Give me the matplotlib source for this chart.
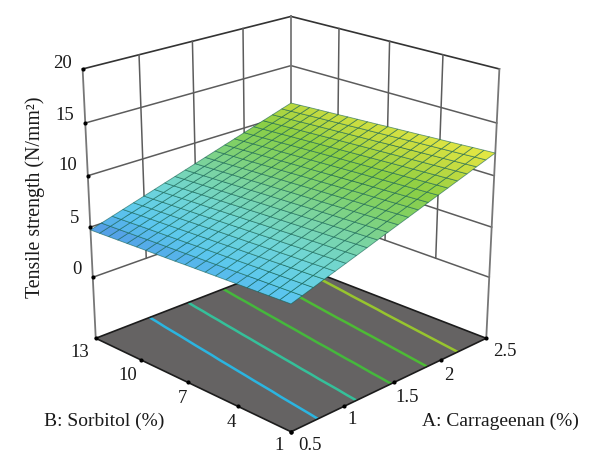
import numpy as np
import matplotlib
matplotlib.use("Agg")
import matplotlib.pyplot as plt
from matplotlib.colors import LinearSegmentedColormap

plt.rcParams['font.family'] = ['Liberation Serif', 'DejaVu Serif']

# Factor axes
carrageenan = [0.5, 0.6, 0.7, 0.8, 0.9, 1.0, 1.1, 1.2, 1.3, 1.4, 1.5, 1.6, 1.7, 1.8, 1.9, 2.0, 2.1, 2.2, 2.3, 2.4, 2.5]
sorbitol = [1.0, 1.6, 2.2, 2.8, 3.4, 4.0, 4.6, 5.2, 5.8, 6.4, 7.0, 7.6, 8.2, 8.8, 9.4, 10.0, 10.6, 11.2, 11.8, 12.4, 13.0]

# Tensile strength: one row per sorbitol level, one column per carrageenan level
strength = [
    [5.53, 5.86, 6.19, 6.53, 6.86, 7.19, 7.52, 7.85, 8.19, 8.52, 8.85, 9.18, 9.51, 9.85, 10.18, 10.51, 10.84, 11.17, 11.51, 11.84, 12.17],
    [5.49, 5.82, 6.15, 6.48, 6.82, 7.15, 7.48, 7.81, 8.14, 8.47, 8.80, 9.14, 9.47, 9.80, 10.13, 10.46, 10.79, 11.12, 11.45, 11.79, 12.12],
    [5.45, 5.78, 6.11, 6.44, 6.77, 7.10, 7.43, 7.76, 8.10, 8.43, 8.76, 9.09, 9.42, 9.75, 10.08, 10.41, 10.74, 11.07, 11.40, 11.73, 12.07],
    [5.41, 5.74, 6.07, 6.40, 6.73, 7.06, 7.39, 7.72, 8.05, 8.38, 8.71, 9.04, 9.37, 9.70, 10.03, 10.36, 10.69, 11.02, 11.35, 11.68, 12.01],
    [5.37, 5.70, 6.03, 6.36, 6.69, 7.02, 7.35, 7.68, 8.00, 8.33, 8.66, 8.99, 9.32, 9.65, 9.98, 10.31, 10.64, 10.97, 11.30, 11.63, 11.96],
    [5.33, 5.66, 5.99, 6.31, 6.64, 6.97, 7.30, 7.63, 7.96, 8.29, 8.62, 8.95, 9.28, 9.60, 9.93, 10.26, 10.59, 10.92, 11.25, 11.58, 11.91],
    [5.29, 5.62, 5.94, 6.27, 6.60, 6.93, 7.26, 7.59, 7.91, 8.24, 8.57, 8.90, 9.23, 9.56, 9.88, 10.21, 10.54, 10.87, 11.20, 11.53, 11.86],
    [5.25, 5.57, 5.90, 6.23, 6.56, 6.89, 7.21, 7.54, 7.87, 8.20, 8.52, 8.85, 9.18, 9.51, 9.84, 10.16, 10.49, 10.82, 11.15, 11.48, 11.80],
    [5.21, 5.53, 5.86, 6.19, 6.51, 6.84, 7.17, 7.50, 7.82, 8.15, 8.48, 8.81, 9.13, 9.46, 9.79, 10.11, 10.44, 10.77, 11.10, 11.42, 11.75],
    [5.17, 5.49, 5.82, 6.15, 6.47, 6.80, 7.13, 7.45, 7.78, 8.10, 8.43, 8.76, 9.08, 9.41, 9.74, 10.06, 10.39, 10.72, 11.04, 11.37, 11.70],
    [5.13, 5.45, 5.78, 6.10, 6.43, 6.76, 7.08, 7.41, 7.73, 8.06, 8.39, 8.71, 9.04, 9.36, 9.69, 10.02, 10.34, 10.67, 10.99, 11.32, 11.65],
    [5.08, 5.41, 5.74, 6.06, 6.39, 6.71, 7.04, 7.36, 7.69, 8.01, 8.34, 8.66, 8.99, 9.31, 9.64, 9.97, 10.29, 10.62, 10.94, 11.27, 11.59],
    [5.04, 5.37, 5.69, 6.02, 6.34, 6.67, 6.99, 7.32, 7.64, 7.97, 8.29, 8.62, 8.94, 9.27, 9.59, 9.92, 10.24, 10.57, 10.89, 11.22, 11.54],
    [5.00, 5.33, 5.65, 5.98, 6.30, 6.62, 6.95, 7.27, 7.60, 7.92, 8.25, 8.57, 8.89, 9.22, 9.54, 9.87, 10.19, 10.52, 10.84, 11.16, 11.49],
    [4.96, 5.29, 5.61, 5.93, 6.26, 6.58, 6.90, 7.23, 7.55, 7.88, 8.20, 8.52, 8.85, 9.17, 9.49, 9.82, 10.14, 10.46, 10.79, 11.11, 11.44],
    [4.92, 5.25, 5.57, 5.89, 6.21, 6.54, 6.86, 7.18, 7.51, 7.83, 8.15, 8.48, 8.80, 9.12, 9.44, 9.77, 10.09, 10.41, 10.74, 11.06, 11.38],
    [4.88, 5.20, 5.53, 5.85, 6.17, 6.49, 6.82, 7.14, 7.46, 7.78, 8.11, 8.43, 8.75, 9.07, 9.40, 9.72, 10.04, 10.36, 10.69, 11.01, 11.33],
    [4.84, 5.16, 5.49, 5.81, 6.13, 6.45, 6.77, 7.09, 7.42, 7.74, 8.06, 8.38, 8.70, 9.03, 9.35, 9.67, 9.99, 10.31, 10.63, 10.96, 11.28],
    [4.80, 5.12, 5.44, 5.77, 6.09, 6.41, 6.73, 7.05, 7.37, 7.69, 8.01, 8.33, 8.66, 8.98, 9.30, 9.62, 9.94, 10.26, 10.58, 10.90, 11.23],
    [4.76, 5.08, 5.40, 5.72, 6.04, 6.36, 6.68, 7.00, 7.33, 7.65, 7.97, 8.29, 8.61, 8.93, 9.25, 9.57, 9.89, 10.21, 10.53, 10.85, 11.17],
    [4.72, 5.04, 5.36, 5.68, 6.00, 6.32, 6.64, 6.96, 7.28, 7.60, 7.92, 8.24, 8.56, 8.88, 9.20, 9.52, 9.84, 10.16, 10.48, 10.80, 11.12],
]

contour_levels = [6.36, 7.59, 8.75, 10.0, 11.1]
contour_colors = ['#2bb5e0', '#35c09a', '#45b83c', '#4dbb35', '#97c52e']

a_ticks = [0.5, 1.0, 1.5, 2.0, 2.5]
b_ticks = [1, 4, 7, 10, 13]
z_ticks = [0, 5, 10, 15, 20]
a_labels = ['0.5', '1', '1.5', '2', '2.5']
b_labels = ['1', '4', '7', '10', '13']
z_labels = ['0', '5', '10', '15', '20']
floor_z = -6.25

W, H = 600, 473
fig = plt.figure(figsize=(6.0, 4.73), dpi=100)

# Square 3D axes placed in pixel terms; it may run past the top of the figure
side = 481
cx, cy = 284.5, 214.5
ax = fig.add_axes([(cx - side / 2) / W, (H - cy - side / 2) / H, side / W, side / H],
                  projection='3d', computed_zorder=False)
ax.set_proj_type('ortho')
ax.set_box_aspect((1, 1, 1.01))
ax.view_init(elev=20.9, azim=-135)
ax.set_xlim(0.5, 2.5)
ax.set_ylim(1, 13)
ax.set_zlim(floor_z, 20)
ax.set_axis_off()
ax.patch.set_alpha(0)

# Keystone projection: foreshortening set separately for height and for depth
height_keystone = -0.065
depth_keystone = 0.11
ortho_proj = ax.get_proj


def keystone_proj():
    M = ortho_proj()
    xr, yr, zr = 2.0, 12.0, 20.0 - floor_z
    M[3] = M[3] + M[3, 3] * np.array([
        depth_keystone / xr,
        depth_keystone / yr,
        height_keystone / zr,
        -height_keystone * (floor_z / zr + 0.5) - depth_keystone * (0.5 / xr + 1.0 / yr + 1.0),
    ])
    return M


ax.get_proj = keystone_proj

a0, a1 = a_ticks[0], a_ticks[-1]
b0, b1 = b_ticks[0], b_ticks[-1]
wall_kw = dict(color='#5c5c5c', lw=1.1, zorder=1)

# Back walls: horizontal rules at each strength tick
for z in z_ticks:
    top = z == z_ticks[-1]
    kw = dict(color='#333333', lw=1.2, zorder=1) if top else wall_kw
    ax.plot([a0, a1], [b1, b1], [z, z], **kw)
    ax.plot([a1, a1], [b0, b1], [z, z], **kw)

# Back walls: inner verticals stop at zero
for a in a_ticks[1:-1]:
    ax.plot([a, a], [b1, b1], [z_ticks[0], z_ticks[-1]], **wall_kw)
for b in b_ticks[1:-1]:
    ax.plot([a1, a1], [b, b], [z_ticks[0], z_ticks[-1]], **wall_kw)

# Corner posts reach the floor
post_kw = dict(color='#777777', lw=1.3, zorder=1)
ax.plot([a0, a0], [b1, b1], [floor_z, 20], **post_kw)
ax.plot([a1, a1], [b1, b1], [floor_z, 20], **post_kw)
ax.plot([a1, a1], [b0, b0], [floor_z, 20], **post_kw)

# Floor with projected contours
fa, fb = np.meshgrid([a0, a1], [b0, b1])
ax.plot_surface(fa, fb, np.full_like(fa, floor_z, dtype=float), color='#656363',
                shade=False, linewidth=0, zorder=2)
A, B = np.meshgrid(carrageenan, sorbitol)
Z = np.array(strength)
ax.contour(A, B, Z, levels=contour_levels, colors=contour_colors, offset=floor_z,
           zdir='z', linewidths=1.8, zorder=3)
edge_kw = dict(color='#1c1c1c', lw=1.2, zorder=3)
ax.plot([a0, a1], [b0, b0], [floor_z, floor_z], **edge_kw)
ax.plot([a0, a0], [b0, b1], [floor_z, floor_z], **edge_kw)
ax.plot([a0, a1], [b1, b1], [floor_z, floor_z], **edge_kw)
ax.plot([a1, a1], [b0, b1], [floor_z, floor_z], **edge_kw)

# Response surface
surface_cmap = LinearSegmentedColormap.from_list('surface', [
    (0.00, '#5595e3'), (0.06, '#55b0ea'), (0.13, '#5cc8ee'), (0.28, '#70d6d6'),
    (0.43, '#7ad4a4'), (0.58, '#80d068'), (0.72, '#8ccf44'), (0.86, '#c0da40'),
    (1.00, '#e8e844')])
ax.plot_surface(A, B, Z, rstride=1, cstride=1, cmap=surface_cmap, vmin=Z.min(), vmax=Z.max(),
                shade=False, edgecolor=(0.05, 0.36, 0.30, 0.6), linewidth=0.6,
                antialiased=True, zorder=5)

# Tick dots
dot_kw = dict(color='black', s=9, depthshade=False, zorder=6, linewidths=0)
ax.scatter([a0] * len(z_ticks), [b1] * len(z_ticks), z_ticks, **dot_kw)
ax.scatter(a_ticks, [b0] * len(a_ticks), [floor_z] * len(a_ticks), **dot_kw)
ax.scatter([a0] * len(b_ticks), b_ticks, [floor_z] * len(b_ticks), **dot_kw)


def put(px, py, text, **kw):
    fig.text(px / W, 1 - py / H, text, ha='center', va='center', color='#1a1a1a', **kw)


fs = 13.5
for (px, py), s in zip([(77, 269), (75, 218), (68, 166), (65, 116), (63, 63)], z_labels):
    put(px, py, s, fontsize=fs)
for (px, py), s in zip([(279, 445), (231, 422), (182, 398), (128, 375), (80, 352)], b_labels):
    put(px, py, s, fontsize=fs)
for (px, py), s in zip([(310, 445), (352, 420), (407, 397), (449, 375), (505, 351)], a_labels):
    put(px, py, s, fontsize=fs)

put(35, 197, 'Tensile strength (N/mm²)', fontsize=14.3, rotation=90)
put(104, 421, 'B: Sorbitol (%)', fontsize=14)
put(500, 421, 'A: Carrageenan (%)', fontsize=14)

fig.savefig('out.png', dpi=100)
